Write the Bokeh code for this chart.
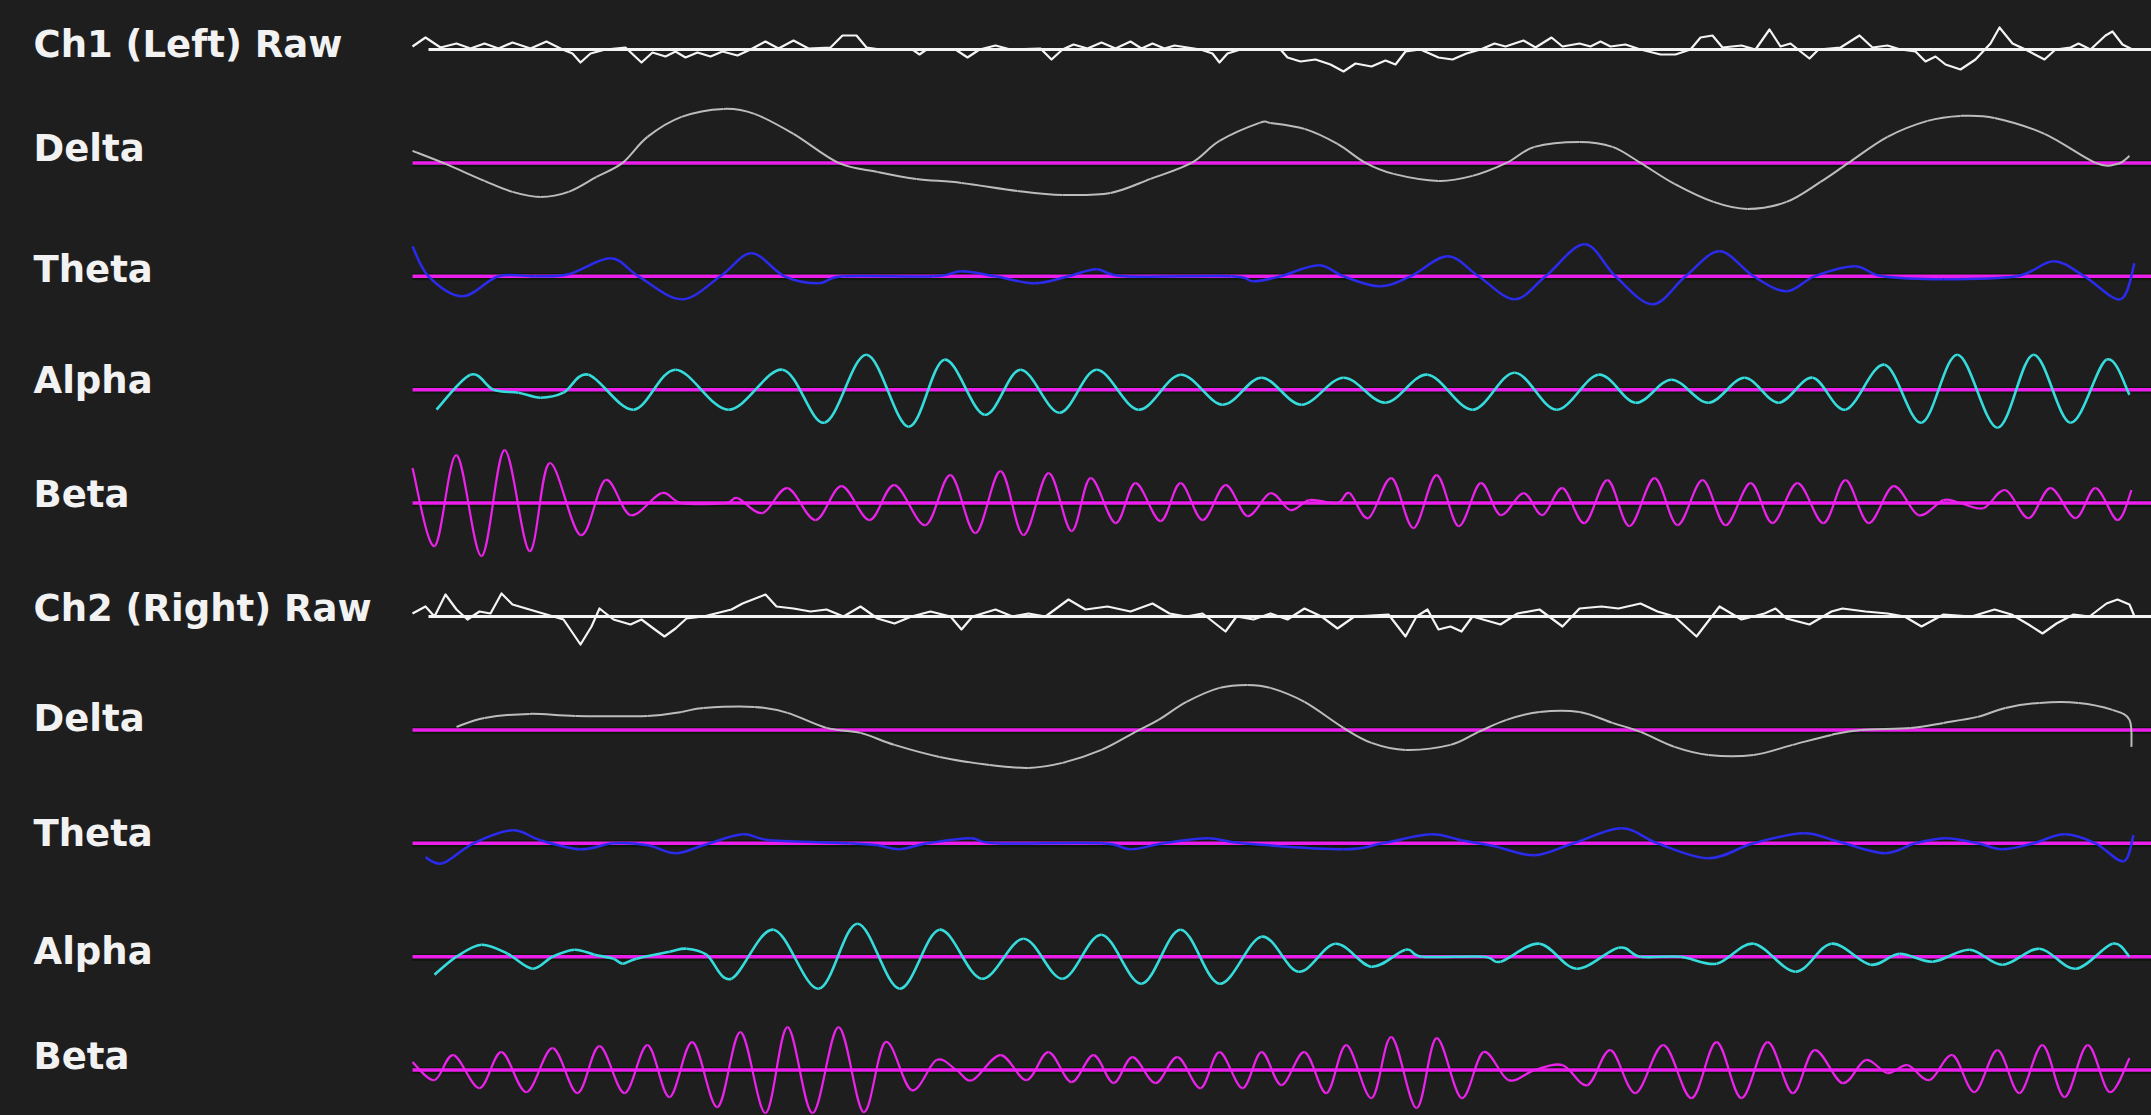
from bokeh.plotting import figure
from bokeh.models import Range1d, ColumnDataSource, GlobalInlineStyleSheet
from bokeh.core.properties import value
from bokeh.embed import file_html
from bokeh.resources import INLINE

# ---------------- data (sample index, amplitude) ----------------
labels = ["Ch1 (Left) Raw", "Delta", "Theta", "Alpha", "Beta",
          "Ch2 (Right) Raw", "Delta", "Theta", "Alpha", "Beta"]
bands = ["raw", "delta", "theta", "alpha", "beta",
         "raw", "delta", "theta", "alpha", "beta"]

ch1_raw = [(412, 3), (425, 12), (440, 2), (456, 6), (470, 1), (484, 6), (498, 1), (512, 7), (530, 1), (546, 8),
           (562, 0), (572, -4), (580, -13), (590, -4), (605, 0), (625, 2), (641, -13), (652, -3), (665, -7),
           (675, -2), (685, -8), (697, -3), (710, -7), (722, -2), (737, -6), (750, 0), (765, 8), (778, 1),
           (793, 9), (808, 1), (830, 2), (842, 14), (856, 14), (866, 2), (880, 0), (912, 0), (919, -5), (926, 0),
           (955, 0), (967, -8), (979, 0), (995, 4), (1010, 0), (1040, 1), (1051, -10), (1062, 0), (1073, 5),
           (1087, 1), (1101, 7), (1115, 1), (1130, 8), (1141, 1), (1152, 6), (1164, 1), (1174, 4), (1200, 0),
           (1212, -4), (1219, -13), (1227, -4), (1240, 0), (1280, 0), (1287, -8), (1300, -12), (1315, -10),
           (1330, -15), (1343, -22), (1355, -14), (1371, -17), (1385, -11), (1395, -15), (1405, -2), (1420, 0),
           (1438, -8), (1452, -10), (1466, -4), (1480, 0), (1494, 6), (1505, 3), (1523, 9), (1535, 2), (1551, 12),
           (1562, 3), (1579, 6), (1590, 3), (1600, 8), (1610, 3), (1625, 5), (1640, 0), (1660, -5), (1675, -5),
           (1690, 0), (1700, 12), (1712, 14), (1722, 2), (1741, 4), (1755, 0), (1769, 20), (1780, 3), (1790, 6),
           (1800, -2), (1809, -9), (1818, 0), (1840, 2), (1859, 14), (1872, 2), (1887, 4), (1900, 0), (1915, -2),
           (1925, -12), (1935, -7), (1945, -15), (1960, -20), (1975, -10), (1990, 6), (1999, 22), (2012, 6),
           (2025, 0), (2044, -10), (2055, 0), (2070, 2), (2078, 6), (2090, 0), (2105, 14), (2112, 18), (2122, 5),
           (2132, 0)]

ch1_delta = [(412, 12), (445, -1), (484, -18), (512, -29), (540, -34), (568, -29), (596, -14), (622, 0),
             (647, 26), (681, 46), (723, 54), (754, 49), (793, 29), (838, 0), (877, -9), (916, -16), (961, -20),
             (1017, -28), (1062, -32), (1110, -30), (1150, -16), (1191, 0), (1219, 22), (1259, 40), (1270, 40),
             (1304, 34), (1337, 19), (1365, 0), (1393, -11), (1438, -18), (1472, -13), (1506, 0), (1534, 16),
             (1579, 21), (1612, 16), (1640, 0), (1674, -21), (1713, -39), (1747, -46), (1786, -39), (1820, -19),
             (1848, 0), (1887, 26), (1927, 42), (1960, 47), (1994, 45), (2044, 29), (2095, 0), (2117, -1),
             (2129, 7)]

ch1_theta = [(412, 30), (428, 0), (462, -20), (498, 0), (535, 0), (568, 2), (610, 18), (638, 0), (681, -23),
             (720, 0), (751, 23), (784, 0), (818, -7), (843, 0), (933, 0), (961, 5), (995, 0), (1034, -7),
             (1068, 0), (1096, 7), (1124, 0), (1231, 0), (1253, -5), (1280, 0), (1318, 11), (1343, 0),
             (1379, -10), (1410, 0), (1447, 20), (1478, 0), (1514, -23), (1545, 0), (1584, 32), (1615, 0),
             (1652, -28), (1685, 0), (1719, 25), (1753, 0), (1786, -15), (1814, 0), (1854, 10), (1882, 0),
             (1943, -3), (2016, 0), (2053, 15), (2084, 0), (2120, -23), (2134, 13)]

ch1_alpha = [(436, -20), (470, 15), (493, 0), (518, -3), (540, -8), (563, -3), (588, 15), (633, -20), (675, 20),
             (728, -20), (782, 20), (824, -33), (866, 35), (908, -37), (944, 30), (984, -25), (1020, 20),
             (1059, -23), (1096, 20), (1138, -20), (1180, 15), (1222, -15), (1261, 12), (1301, -15), (1343, 12),
             (1385, -13), (1427, 15), (1472, -20), (1514, 17), (1556, -20), (1598, 15), (1635, -13), (1671, 10),
             (1708, -13), (1744, 12), (1778, -13), (1812, 12), (1845, -20), (1884, 25), (1921, -33), (1957, 35),
             (1997, -38), (2033, 35), (2070, -33), (2106, 30), (2129, -5)]

ch1_beta = [(412, 35), (434, -43), (456, 48), (481, -53), (504, 53), (529, -48), (549, 40), (580, -32), (605, 23),
            (630, -12), (661, 10), (681, 0), (725, 0), (737, 5), (762, -10), (787, 15), (815, -17), (841, 17),
            (869, -17), (894, 18), (925, -22), (950, 28), (975, -30), (1000, 32), (1023, -32), (1048, 30),
            (1071, -28), (1090, 25), (1115, -20), (1135, 20), (1160, -18), (1180, 20), (1202, -17), (1225, 18),
            (1247, -13), (1270, 10), (1290, -7), (1309, 3), (1337, 0), (1349, 10), (1368, -15), (1391, 25),
            (1413, -25), (1436, 28), (1458, -23), (1480, 20), (1500, -12), (1523, 10), (1542, -12), (1562, 15),
            (1584, -20), (1607, 23), (1629, -23), (1654, 25), (1677, -22), (1702, 23), (1725, -22), (1750, 20),
            (1772, -20), (1797, 20), (1823, -20), (1845, 23), (1868, -20), (1893, 17), (1918, -12), (1943, 3),
            (1960, 0), (1983, -5), (2005, 13), (2028, -15), (2050, 15), (2075, -15), (2095, 15), (2117, -17),
            (2131, 13)]

ch2_raw = [(412, 3), (425, 10), (434, 0), (445, 22), (456, 7), (467, -3), (479, 5), (490, 3), (501, 23), (512, 12),
           (529, 7), (546, 2), (563, -3), (580, -28), (591, -10), (599, 8), (613, -3), (630, -8), (641, -3),
           (653, -12), (664, -20), (675, -12), (686, -2), (703, 0), (731, 7), (742, 13), (765, 22), (776, 10),
           (793, 8), (810, 5), (826, 7), (843, 0), (860, 10), (877, -2), (894, -7), (911, 0), (930, 5), (950, 0),
           (961, -13), (972, 0), (995, 7), (1012, 0), (1028, 3), (1045, 0), (1068, 17), (1085, 7), (1107, 10),
           (1130, 5), (1152, 13), (1169, 3), (1186, 0), (1202, 3), (1225, -15), (1236, 0), (1253, -3), (1270, 3),
           (1287, -3), (1304, 8), (1321, 0), (1337, -12), (1354, 0), (1388, 2), (1405, -20), (1416, 0), (1427, 7),
           (1438, -13), (1450, -10), (1461, -15), (1472, 0), (1500, -8), (1517, 3), (1539, 7), (1562, -10),
           (1579, 8), (1601, 10), (1618, 8), (1640, 13), (1657, 5), (1674, 0), (1696, -20), (1719, 10),
           (1741, -3), (1764, 3), (1775, 8), (1786, -2), (1809, -8), (1831, 5), (1842, 8), (1865, 5), (1887, 3),
           (1904, 0), (1921, -10), (1943, 2), (1971, 0), (1994, 7), (2011, 2), (2028, -8), (2042, -17),
           (2056, -7), (2073, 2), (2089, 0), (2106, 13), (2117, 17), (2129, 12), (2134, 0)]

ch2_delta = [(456, 3), (484, 12), (529, 16), (575, 14), (647, 14), (681, 18), (703, 22), (754, 23), (787, 17),
             (826, 2), (860, -3), (894, -15), (939, -27), (989, -35), (1028, -38), (1062, -33), (1101, -20),
             (1135, -2), (1158, 10), (1186, 28), (1219, 42), (1247, 45), (1270, 42), (1304, 28), (1343, 2),
             (1371, -13), (1405, -20), (1450, -15), (1478, -2), (1506, 10), (1539, 18), (1579, 18), (1612, 7),
             (1640, -2), (1674, -17), (1708, -25), (1753, -25), (1792, -15), (1831, -5), (1860, 0), (1910, 2),
             (1943, 7), (1977, 13), (2005, 22), (2039, 27), (2078, 27), (2112, 20), (2129, 10), (2131, -17)]

ch2_theta = [(425, -14), (442, -20), (473, 0), (512, 13), (540, 3), (580, -6), (613, 0), (647, -2), (675, -10),
             (703, -2), (742, 9), (770, 3), (849, 0), (877, -2), (899, -6), (927, 0), (970, 5), (995, 0),
             (1101, 0), (1130, -6), (1163, 0), (1208, 5), (1242, 0), (1343, -6), (1382, 0), (1430, 9), (1461, 3),
             (1494, -3), (1534, -12), (1573, 0), (1621, 15), (1657, 0), (1708, -15), (1753, 0), (1803, 10),
             (1837, 2), (1884, -10), (1915, 0), (1946, 5), (1977, 0), (2002, -6), (2033, 0), (2064, 9), (2095, 0),
             (2123, -18), (2133, 8)]

ch2_alpha = [(434, -18), (456, 0), (481, 12), (507, 3), (532, -12), (552, 0), (574, 7), (594, 2), (613, -2),
             (622, -7), (636, -2), (669, 5), (686, 8), (706, 2), (731, -22), (773, 27), (818, -32), (857, 33),
             (899, -32), (939, 27), (981, -22), (1023, 18), (1062, -22), (1101, 22), (1141, -27), (1180, 27),
             (1219, -27), (1261, 20), (1298, -15), (1335, 13), (1371, -10), (1405, 7), (1422, 0), (1483, 0),
             (1500, -5), (1539, 13), (1576, -12), (1618, 9), (1640, 0), (1680, 0), (1716, -7), (1753, 13),
             (1795, -15), (1831, 13), (1870, -8), (1899, 3), (1932, -5), (1969, 7), (2002, -8), (2039, 8),
             (2075, -12), (2112, 13), (2129, 0)]

ch2_beta = [(412, 8), (434, -10), (453, 15), (479, -18), (501, 18), (526, -22), (552, 22), (577, -23), (599, 24),
            (624, -23), (647, 25), (669, -27), (692, 28), (717, -37), (740, 38), (765, -43), (787, 43), (812, -43),
            (838, 43), (863, -42), (885, 28), (911, -20), (936, 10), (956, 0), (972, -10), (1000, 15), (1026, -10),
            (1048, 18), (1071, -12), (1093, 15), (1113, -13), (1132, 13), (1155, -13), (1177, 13), (1200, -18),
            (1219, 18), (1242, -18), (1261, 18), (1281, -15), (1304, 18), (1326, -23), (1346, 25), (1371, -28),
            (1391, 33), (1416, -38), (1436, 32), (1461, -28), (1483, 18), (1508, -10), (1534, 0), (1562, 5),
            (1587, -15), (1610, 20), (1635, -23), (1663, 25), (1691, -28), (1716, 28), (1741, -28), (1767, 28),
            (1792, -23), (1814, 20), (1842, -13), (1865, 10), (1887, -3), (1907, 5), (1929, -10), (1952, 15),
            (1974, -22), (1997, 20), (2019, -23), (2042, 25), (2064, -27), (2087, 25), (2109, -22), (2129, 12)]

traces = [ch1_raw, ch1_delta, ch1_theta, ch1_alpha, ch1_beta,
          ch2_raw, ch2_delta, ch2_theta, ch2_alpha, ch2_beta]

# ---------------- styling ----------------
BG = "#1e1e1e"
band_color = {"raw": "#f4f4f4", "delta": "#bcbcbc", "theta": "#2b2bee",
              "alpha": "#36dcdc", "beta": "#ea22ea"}
band_width = {"raw": 2.2, "delta": 2, "theta": 2.5, "alpha": 2.6, "beta": 2.2}
MAGENTA = "#ec1eec"

W, H = 2151, 1115
p = figure(width=W, height=H, output_backend="svg", toolbar_location=None,
           x_range=Range1d(0, W), y_range=Range1d(H, 0),
           background_fill_color=BG, border_fill_color=BG, outline_line_color=None,
           min_border=0, min_border_left=0, min_border_right=0, min_border_top=0, min_border_bottom=0)
p.axis.visible = False
p.grid.visible = False
p.stylesheets = [GlobalInlineStyleSheet(
    css="html, body { margin: 0; padding: 0; background: #1e1e1e; overflow: hidden; }")]

row0, row_step = 49.0, 113.4
label_y = [44, 148, 269, 380, 494, 608, 718, 833, 951, 1056]


def smooth_segments(xs, ys):
    """Cubic (Catmull-Rom style) rendering of the line through the read points."""
    n = len(xs)
    out = dict(x0=[], y0=[], x1=[], y1=[], cx0=[], cy0=[], cx1=[], cy1=[])
    for i in range(n - 1):
        a = max(i - 1, 0)
        d = min(i + 2, n - 1)
        out["x0"].append(xs[i]); out["y0"].append(ys[i])
        out["x1"].append(xs[i + 1]); out["y1"].append(ys[i + 1])
        out["cx0"].append(xs[i] + (xs[i + 1] - xs[a]) / 6.0)
        out["cy0"].append(ys[i] + (ys[i + 1] - ys[a]) / 6.0)
        out["cx1"].append(xs[i + 1] - (xs[d] - xs[i]) / 6.0)
        out["cy1"].append(ys[i + 1] - (ys[d] - ys[i]) / 6.0)
    return out


for k, (band, tr) in enumerate(zip(bands, traces)):
    base = row0 + row_step * k
    xs = [t for t, _ in tr]
    ys = [base - v for _, v in tr]
    if band == "raw":
        p.line([428, W], [base, base], line_color="#f4f4f4", line_width=3)
        p.line(xs, ys, line_color=band_color[band], line_width=band_width[band], line_join="round")
    else:
        p.line([412, W], [base + 0.5, base + 0.5], line_color="#0b160b", line_width=7, line_alpha=0.9)
        p.line([412, W], [base, base], line_color=MAGENTA, line_width=3.5)
        seg = ColumnDataSource(smooth_segments(xs, ys))
        p.bezier(x0="x0", y0="y0", x1="x1", y1="y1", cx0="cx0", cy0="cy0", cx1="cx1", cy1="cy1",
                 source=seg, line_color=band_color[band], line_width=band_width[band])

src = ColumnDataSource(dict(x=[33] * len(labels), y=label_y, text=labels))
p.text(x="x", y="y", text="text", source=src, text_font=value("DejaVu Sans"),
       text_font_style="bold", text_font_size="37px", text_color="#f2f2f2",
       text_baseline="middle", text_align="left")

open("out.html", "w").write(file_html(p, INLINE))
